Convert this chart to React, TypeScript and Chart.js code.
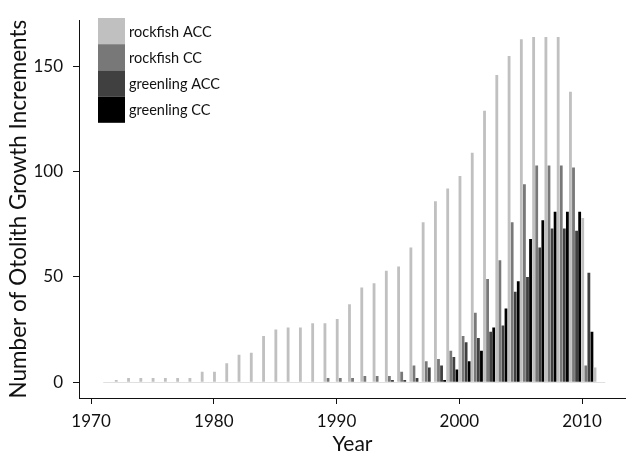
import React, { useEffect, useRef } from "react";
import { Chart, registerables } from "chart.js";

Chart.register(...registerables);

const years = [
  1971, 1972, 1973, 1974, 1975, 1976, 1977, 1978, 1979, 1980,
  1981, 1982, 1983, 1984, 1985, 1986, 1987, 1988, 1989, 1990,
  1991, 1992, 1993, 1994, 1995, 1996, 1997, 1998, 1999, 2000,
  2001, 2002, 2003, 2004, 2005, 2006, 2007, 2008, 2009, 2010, 2011,
];

const rockfishACC = [
  0, 1, 2, 2, 2, 2, 2, 2, 5, 5,
  9, 13, 14, 22, 25, 26, 26, 28, 28, 30,
  37, 45, 47, 53, 55, 64, 76, 86, 92, 98,
  109, 129, 146, 155, 163, 164, 164, 164, 138, 78, 7,
];

const rockfishCC = [
  0, 0, 0, 0, 0, 0, 0, 0, 0, 0,
  0, 0, 0, 0, 0, 0, 0, 0, 2, 2,
  2, 3, 3, 3, 5, 8, 10, 11, 15, 22,
  33, 49, 58, 76, 94, 103, 103, 103, 102, 8, 0,
];

const greenlingACC = [
  0, 0, 0, 0, 0, 0, 0, 0, 0, 0,
  0, 0, 0, 0, 0, 0, 0, 0, 0, 0,
  0, 0, 0, 1, 1, 2, 7, 8, 12, 19,
  21, 24, 27, 43, 50, 64, 73, 73, 72, 52, 0,
];

const greenlingCC = [
  0, 0, 0, 0, 0, 0, 0, 0, 0, 0,
  0, 0, 0, 0, 0, 0, 0, 0, 0, 0,
  0, 0, 0, 0, 0, 0, 0, 1, 6, 10,
  15, 26, 35, 48, 68, 77, 81, 81, 81, 24, 0,
];

const seriesLabels = ["rockfish ACC", "rockfish CC", "greenling ACC", "greenling CC"];
const seriesColors = ["#c0c0c0", "#787878", "#404040", "#000000"];
const xTickValues = [1970, 1980, 1990, 2000, 2010];
const yTickValues = [0, 50, 100, 150];

const FONT = "Lato, 'Open Sans', sans-serif";

const X_MIN = 1969.02;
const X_MAX = 2013.58;
const GROUP_SHIFT = 0.43;

const baselinePlugin = {
  id: "baseline",
  beforeDatasetsDraw(chart: any) {
    const xs = chart.scales.x;
    const ys = chart.scales.y;
    const ctx = chart.ctx;
    const y0 = Math.round(ys.getPixelForValue(0)) + 0.5;
    ctx.save();
    ctx.strokeStyle = "#e0e0e0";
    ctx.lineWidth = 1;
    ctx.beginPath();
    ctx.moveTo(xs.getPixelForValue(years[0]), y0);
    ctx.lineTo(xs.getPixelForValue(years[years.length - 1] + 0.9), y0);
    ctx.stroke();
    ctx.restore();
  },
};

const legendPlugin = {
  id: "boxLegend",
  afterDraw(chart: any) {
    const ctx = chart.ctx;
    const left = 98;
    const top = 18;
    const bw = 27;
    const bh = 26.2;
    ctx.save();
    ctx.font = "14.5px " + FONT;
    ctx.textBaseline = "middle";
    ctx.textAlign = "left";
    chart.data.datasets.forEach((ds: any, i: number) => {
      const y = top + i * bh;
      ctx.fillStyle = ds.backgroundColor;
      ctx.fillRect(left, y, bw, bh);
      ctx.fillStyle = "#111";
      ctx.fillText(ds.label, left + bw + 4, y + bh / 2 + 1);
    });
    ctx.restore();
  },
};

export default function App() {
  const ref = useRef<HTMLCanvasElement | null>(null);

  useEffect(() => {
    if (!ref.current) return;
    const series = [rockfishACC, rockfishCC, greenlingACC, greenlingCC];
    const chart = new Chart(ref.current, {
      type: "bar",
      data: {
        datasets: series.map((arr, i) => ({
          label: seriesLabels[i],
          data: years.map((yr, j) => ({ x: yr, y: arr[j] })),
          backgroundColor: seriesColors[i],
          borderWidth: 0,
          xAxisID: "xb",
          yAxisID: "y",
          categoryPercentage: 1,
          barPercentage: 0.92,
        })),
      },
      options: {
        responsive: false,
        animation: false,
        devicePixelRatio: 1,
        layout: { padding: { top: 14, right: 0, left: 0, bottom: 0 } },
        plugins: {
          legend: { display: false },
          tooltip: { enabled: false },
        },
        scales: {
          xb: {
            type: "linear",
            display: false,
            offset: false,
            grid: { offset: false },
            min: X_MIN - GROUP_SHIFT,
            max: X_MAX - GROUP_SHIFT,
          },
          x: {
            type: "linear",
            position: "bottom",
            offset: false,
            min: X_MIN,
            max: X_MAX,
            afterBuildTicks: (s: any) => {
              s.ticks = xTickValues.map((v) => ({ value: v }));
            },
            afterFit: (s: any) => {
              s.height = 59;
            },
            grid: {
              display: true,
              offset: false,
              drawOnChartArea: false,
              drawTicks: true,
              tickLength: 6,
              color: "#111",
            },
            border: { display: true, color: "#111", width: 1 },
            ticks: {
              color: "#111",
              font: { family: FONT, size: 17 },
              padding: 7,
              maxRotation: 0,
              callback: (v: any) => String(v),
            },
            title: {
              display: true,
              text: "Year",
              color: "#111",
              font: { family: FONT, size: 21 },
              padding: { top: 0, bottom: 0 },
            },
          },
          y: {
            type: "linear",
            min: -7.5,
            max: 172,
            afterBuildTicks: (s: any) => {
              s.ticks = yTickValues.map((v) => ({ value: v }));
            },
            afterFit: (s: any) => {
              s.width = 79;
            },
            grid: {
              display: true,
              drawOnChartArea: false,
              drawTicks: true,
              tickLength: 6,
              color: "#111",
            },
            border: { display: true, color: "#111", width: 1 },
            ticks: {
              color: "#111",
              font: { family: FONT, size: 17 },
              padding: 10,
              callback: (v: any) => String(v),
            },
            title: {
              display: true,
              text: "Number of Otolith Growth Increments",
              color: "#111",
              font: { family: FONT, size: 22.5 },
              padding: { top: 5, bottom: 0 },
            },
          },
        },
      },
      plugins: [baselinePlugin, legendPlugin],
    });
    return () => chart.destroy();
  }, []);

  return (
    <div style={{ position: "fixed", left: 0, top: 0, width: 626, height: 457, background: "#fff" }}>
      <canvas ref={ref} width={626} height={457} style={{ display: "block" }} />
    </div>
  );
}
